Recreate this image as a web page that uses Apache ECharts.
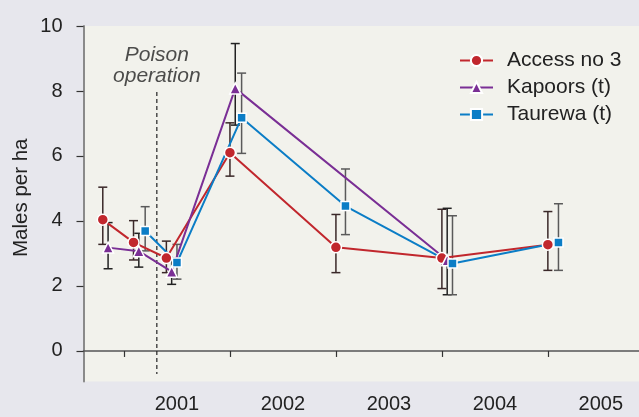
<!DOCTYPE html>
<html>
<head>
<meta charset="utf-8">
<script src="https://cdn.jsdelivr.net/npm/echarts@6/dist/echarts.min.js"></script>
<style>
html,body{margin:0;padding:0;background:#e7e7ed;}
#c{width:639px;height:417px;}
</style>
</head>
<body>
<div id="c"></div>
<script>
// ---- data ----
const seriesNames = ['Access no 3', 'Kapoors (t)', 'Taurewa (t)'];

const accessX  = [2000.80, 2001.09, 2001.40, 2002.00, 2003.00, 2004.00, 2005.00];
const accessY  = [4.04, 3.34, 2.86, 6.10, 3.19, 2.86, 3.27];
const accessLo = [3.28, 2.80, 2.41, 5.38, 2.41, 1.92, 2.48];
const accessHi = [5.04, 4.01, 3.38, 7.02, 4.20, 4.36, 4.29];

const kapoorsX  = [2000.85, 2001.14, 2001.45, 2002.05, 2004.05];
const kapoorsY  = [3.18, 3.07, 2.44, 8.08, 2.79];
const kapoorsLo = [2.53, 2.58, 2.05, 6.95, 1.73];
const kapoorsHi = [3.95, 3.62, 2.85, 9.46, 4.39];

const taurewaX  = [2001.20, 2001.50, 2002.11, 2003.09, 2004.10, 2005.10];
const taurewaY  = [3.69, 2.72, 7.18, 4.46, 2.69, 3.34];
const taurewaLo = [3.08, 2.21, 6.08, 3.58, 1.73, 2.48];
const taurewaHi = [4.44, 3.28, 8.55, 5.60, 4.16, 4.53];

const xTickYears = [2001, 2002, 2003, 2004, 2005];
const xTickLabels = ['2001', '2002', '2003', '2004', '2005'];
const yTickValues = [0, 2, 4, 6, 8, 10];

const poisonX = 2001.31;
const poisonTop = 7.97;
const poisonBottom = -0.71;
const poisonLabelY = 8.78;
const poisonText = 'Poison\noperation';

// ---- build ----
const FONT = 'Liberation Sans, Arial, sans-serif';
const colors = ['#c1272d', '#7a2f95', '#0b7dc6'];
const barColors = ['#3a2828', '#222222', '#5a5a5a'];
const symbols = ['circle', 'triangle', 'rect'];
const symbolSizes = [11, 11, 9];

const groups = [
  [accessX, accessY, accessLo, accessHi],
  [kapoorsX, kapoorsY, kapoorsLo, kapoorsHi],
  [taurewaX, taurewaY, taurewaLo, taurewaHi]
];

const series = [];
groups.forEach((g, i) => {
  const [xs, ys, lo, hi] = g;
  series.push({
    type: 'custom',
    name: seriesNames[i] + ' err',
    z: 2,
    silent: true,
    renderItem: function (params, api) {
      const x = api.value(0);
      const p1 = api.coord([x, api.value(1)]);
      const p2 = api.coord([x, api.value(2)]);
      const hw = 4.5;
      const st = { stroke: barColors[i], lineWidth: 1.5 };
      return {
        type: 'group',
        children: [
          { type: 'line', shape: { x1: p1[0], y1: p1[1], x2: p2[0], y2: p2[1] }, style: st },
          { type: 'line', shape: { x1: p1[0] - hw, y1: p1[1], x2: p1[0] + hw, y2: p1[1] }, style: st },
          { type: 'line', shape: { x1: p2[0] - hw, y1: p2[1], x2: p2[0] + hw, y2: p2[1] }, style: st }
        ]
      };
    },
    data: xs.map((x, k) => [x, lo[k], hi[k]])
  });
});
groups.forEach((g, i) => {
  const [xs, ys] = g;
  series.push({
    type: 'line',
    name: seriesNames[i],
    z: 3,
    symbol: symbols[i],
    symbolSize: symbolSizes[i],
    showAllSymbol: true,
    color: colors[i],
    lineStyle: { width: 2, color: colors[i] },
    itemStyle: { color: colors[i], borderColor: '#ffffff', borderWidth: 1.5 },
    data: xs.map((x, k) => [x, ys[k]])
  });
});
series.push({
  type: 'line',
  name: 'poison',
  z: 1,
  silent: true,
  symbol: 'none',
  lineStyle: { color: '#222', width: 1.2, type: [4, 3] },
  data: [[poisonX, poisonTop], [poisonX, poisonBottom]]
});
series.push({
  type: 'scatter',
  name: 'poisonLabel',
  silent: true,
  symbolSize: 0,
  label: {
    show: true,
    position: 'inside',
    formatter: poisonText,
    fontSize: 21,
    lineHeight: 21,
    fontStyle: 'italic',
    fontFamily: FONT,
    color: '#222'
  },
  data: [[poisonX, poisonLabelY]]
});

const chart = echarts.init(document.getElementById('c'));
chart.setOption({
  backgroundColor: '#e7e7ed',
  animation: false,
  textStyle: { fontFamily: FONT },
  grid: {
    left: 83.5, right: 0, top: 26, bottom: 35.5,
    containLabel: false,
    outerBoundsMode: 'none',
    show: true, backgroundColor: '#f2f2ec', borderWidth: 0
  },
  legend: {
    data: seriesNames,
    orient: 'vertical',
    left: 459, top: 50,
    padding: 0,
    itemWidth: 33, itemHeight: 14, itemGap: 6,
    textStyle: { fontSize: 21, color: '#222', lineHeight: 21, padding: [0, 0, 0, 9] }
  },
  xAxis: {
    type: 'value',
    min: 2000.618, max: 2005.86,
    axisLine: { show: true, lineStyle: { color: '#555', width: 1.5 } },
    axisTick: { show: true, length: 6, customValues: xTickYears, lineStyle: { color: '#333', width: 1.2 } },
    axisLabel: {
      customValues: xTickYears.map(v => v + 0.5),
      formatter: function (v) { return xTickLabels[xTickYears.indexOf(Math.floor(v))]; },
      fontSize: 20, color: '#222', margin: 13
    },
    splitLine: { show: false }
  },
  yAxis: {
    type: 'value',
    min: -0.94, max: 10,
    name: 'Males per ha',
    nameLocation: 'middle',
    nameRotate: 90,
    nameGap: 52,
    nameMoveOverlap: false,
    nameTextStyle: { fontSize: 20.5, color: '#222', padding: [0, 0, 0, 12] },
    axisLine: { show: true, lineStyle: { color: '#8a8a8a', width: 2 } },
    axisTick: { show: true, length: 7, customValues: yTickValues, lineStyle: { color: '#333', width: 1.2 } },
    axisLabel: { customValues: yTickValues, fontSize: 20, color: '#222', margin: 21 },
    splitLine: { show: false }
  },
  series: series
});
</script>
</body>
</html>
